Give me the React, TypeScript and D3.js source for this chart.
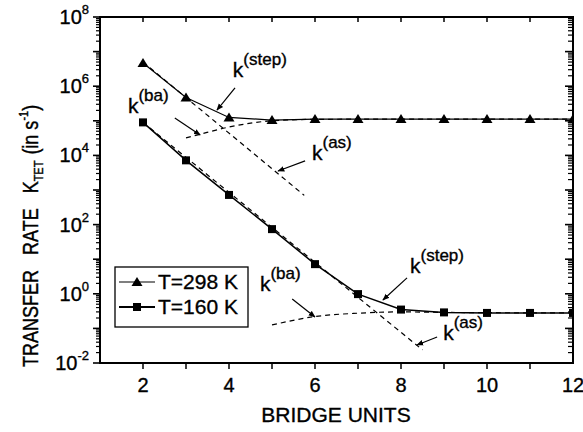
import React from 'react';
import * as d3 from 'd3';

// bridge units on the x axis
const bridgeUnits = [2, 3, 4, 5, 6, 7, 8, 9, 10, 11, 12];
// transfer rates (s^-1)
const rateT298 = [4.7e6, 4.7e5, 1.25e5, 1.05e5, 1.12e5, 1.12e5, 1.12e5, 1.12e5, 1.12e5, 1.12e5, 1.12e5];
const rateT160 = [9e4, 7.2e3, 7.2e2, 74, 7.2, 0.98, 0.35, 0.29, 0.28, 0.28, 0.28];

// model curves (dashed)
const kAsHighX = [2, 5.75];
const kAsHighY = [5e6, 7e2];
const kBaHighX = [3, 3.3, 4, 5, 6, 8, 12];
const kBaHighY = [3.2e4, 4e4, 6.6e4, 1e5, 1.1e5, 1.12e5, 1.12e5];
const kAsLowX = [2, 8.5];
const kAsLowY = [9e4, 2.4e-2];
const kBaLowX = [5, 6, 7, 8, 9, 12];
const kBaLowY = [0.126, 0.22, 0.275, 0.3, 0.29, 0.28];

const xTicks = [2, 4, 6, 8, 10, 12];
const yTickExps = [-2, 0, 2, 4, 6, 8];

// annotation labels: text anchor + arrow from -> to (x in bridge units, value as log10)
const annotations = [
  { sup: '(step)', x: 4.09, e: 6.27, x1: 4.14, e1: 5.95, x2: 3.72, e2: 5.31 },
  { sup: '(ba)', x: 1.65, e: 5.23, x1: 2.74, e1: 5.08, x2: 3.33, e2: 4.59 },
  { sup: '(as)', x: 5.93, e: 3.87, x1: 5.77, e1: 3.84, x2: 5.14, e2: 3.55 },
  { sup: '(ba)', x: 4.72, e: 0.08, x1: 5.47, e1: -0.15, x2: 6.0, e2: -0.67 },
  { sup: '(step)', x: 8.21, e: 0.6, x1: 8.14, e1: 0.46, x2: 7.58, e2: -0.18 },
  { sup: '(as)', x: 8.98, e: -1.34, x1: 8.84, e1: -1.25, x2: 8.37, e2: -1.48 },
];

const W = 583;
const H = 432;
const left = 100, right = 573, top = 17, bottom = 363;
const font = '"Liberation Sans", Arial, Helvetica, sans-serif';
// slight stroke so the glyphs look as dark as the scanned original
const ink = { stroke: '#000', strokeWidth: 0.35 };

export default function App() {
  const x = d3.scaleLinear().domain([1, 12]).range([left, right]);
  const y = d3.scaleLog().domain([1e-2, 1e8]).range([bottom, top]);

  const line = d3.line<[number, number]>().x(d => x(d[0])).y(d => y(d[1]));
  const zip = (xs: number[], ys: number[]) => xs.map((v, i) => [v, ys[i]] as [number, number]);

  const minor: number[] = [];
  for (let e = -2; e < 8; e++) {
    for (let m = 2; m <= 9; m++) minor.push(m * Math.pow(10, e));
  }
  const xInts = d3.range(2, 12);

  const tri = (cx: number, cy: number) => `M${cx},${cy - 5}L${cx + 5.5},${cy + 4}L${cx - 5.5},${cy + 4}Z`;

  return (
    <svg width={W} height={H} style={{ position: 'absolute', left: 0, top: 0, background: '#fff' }} fontFamily={font}>
      <defs>
        <clipPath id="plot">
          <rect x={left} y={top} width={right - left} height={bottom - top} />
        </clipPath>
        <marker id="arr" viewBox="0 0 10 10" refX="9" refY="5" markerWidth="7" markerHeight="7" orient="auto" markerUnits="userSpaceOnUse">
          <path d="M0,1L10,5L0,9Z" fill="#000" />
        </marker>
      </defs>

      <g clipPath="url(#plot)">
        {/* dashed model curves */}
        {[zip(kAsHighX, kAsHighY), zip(kBaHighX, kBaHighY), zip(kAsLowX, kAsLowY), zip(kBaLowX, kBaLowY)].map((pts, i) => (
          <path key={i} d={(i === 1 || i === 3 ? line.curve(d3.curveMonotoneX) : line.curve(d3.curveLinear))(pts) || ''}
            fill="none" stroke="#000" strokeWidth={1.2} strokeDasharray="5,4" />
        ))}
        <path d={line.curve(d3.curveLinear)(zip(bridgeUnits, rateT298)) || ''} fill="none" stroke="#000" strokeWidth={1.2} />
        <path d={line.curve(d3.curveLinear)(zip(bridgeUnits, rateT160)) || ''} fill="none" stroke="#000" strokeWidth={1.5} />
        {bridgeUnits.map((b, i) => (
          <path key={'t' + i} d={tri(x(b), y(rateT298[i]))} fill="#000" />
        ))}
        {bridgeUnits.map((b, i) => (
          <rect key={'s' + i} x={x(b) - 4} y={y(rateT160[i]) - 4} width={8} height={8} fill="#000" />
        ))}
      </g>

      {/* annotations */}
      {annotations.map((a, i) => (
        <g key={'a' + i}>
          <line x1={x(a.x1)} y1={y(Math.pow(10, a.e1))} x2={x(a.x2)} y2={y(Math.pow(10, a.e2))}
            stroke="#000" strokeWidth={1.2} markerEnd="url(#arr)" />
          <text x={x(a.x)} y={y(Math.pow(10, a.e))} fontSize={21} {...ink}>
            k<tspan fontSize={17} dy={-12}>{a.sup}</tspan>
          </text>
        </g>
      ))}

      {/* frame */}
      <rect x={left} y={top} width={right - left} height={bottom - top} fill="none" stroke="#000" strokeWidth={2} />

      {/* x ticks */}
      {xInts.map(v => (
        <g key={'xt' + v}>
          <line x1={x(v)} x2={x(v)} y1={bottom} y2={bottom + 6} stroke="#000" strokeWidth={1.5} />
          <line x1={x(v)} x2={x(v)} y1={top} y2={top + 5} stroke="#000" strokeWidth={1.5} />
        </g>
      ))}
      {xTicks.map(v => (
        <text key={'xl' + v} x={x(v)} y={392} textAnchor="middle" fontSize={20} {...ink}>{v}</text>
      ))}

      {/* y ticks */}
      {minor.map((v, i) => (
        <g key={'ym' + i}>
          <line x1={left - 4} x2={left} y1={y(v)} y2={y(v)} stroke="#000" strokeWidth={1.2} />
          <line x1={right - 5} x2={right} y1={y(v)} y2={y(v)} stroke="#000" strokeWidth={1.2} />
        </g>
      ))}
      {d3.range(-2, 9).map(e => (
        <g key={'yM' + e}>
          <line x1={left - 7} x2={left} y1={y(Math.pow(10, e))} y2={y(Math.pow(10, e))} stroke="#000" strokeWidth={1.6} />
          <line x1={right - 8} x2={right} y1={y(Math.pow(10, e))} y2={y(Math.pow(10, e))} stroke="#000" strokeWidth={1.6} />
        </g>
      ))}
      {yTickExps.map(e => (
        <text key={'yl' + e} x={89} y={y(Math.pow(10, e)) + 7} textAnchor="end" fontSize={20} {...ink}>
          10<tspan fontSize={13} dy={-10}>{e}</tspan>
        </text>
      ))}

      {/* legend */}
      <rect x={115} y={267} width={133} height={60} fill="#fff" stroke="#000" strokeWidth={1.3} />
      <line x1={119} x2={155} y1={282} y2={282} stroke="#000" strokeWidth={1.1} />
      <path d={tri(137, 282)} fill="#000" />
      <text x={158} y={289} fontSize={21} {...ink}>T=298 K</text>
      <line x1={119} x2={155} y1={307} y2={307} stroke="#000" strokeWidth={1.8} />
      <rect x={133} y={303} width={8} height={8} fill="#000" />
      <text x={158} y={314} fontSize={21} {...ink}>T=160 K</text>

      {/* axis titles */}
      <text x={336} y={422} textAnchor="middle" fontSize={21} {...ink}>BRIDGE UNITS</text>
      <g transform="translate(38,367) rotate(-90) scale(1,1.2)">
        <text x={0} y={0} fontSize={18} {...ink}>
          TRANSFER
          <tspan dx={15}>RATE</tspan>
          <tspan dx={15}>K</tspan>
          <tspan fontSize={11} dy={4}>TET</tspan>
          <tspan dx={6} dy={-4}>(in s</tspan>
          <tspan fontSize={11} dy={-8}>-1</tspan>
          <tspan dy={8}>)</tspan>
        </text>
      </g>
    </svg>
  );
}
